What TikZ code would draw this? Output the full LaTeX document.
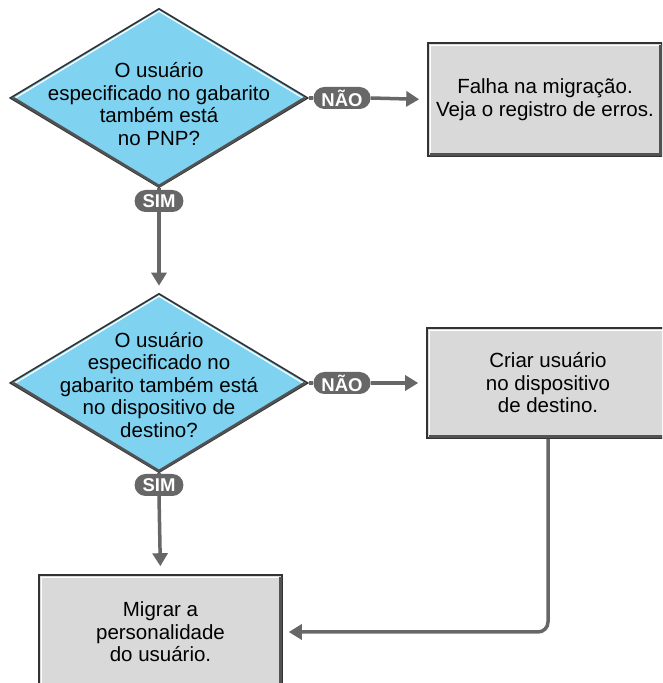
\documentclass[tikz,border=0pt]{standalone}
\usepackage{fontspec}
\setmainfont{Liberation Sans}
\usetikzlibrary{shapes.geometric,arrows.meta,calc}
\definecolor{qblue}{HTML}{7FD3F1}
\definecolor{boxgray}{HTML}{D9D9D9}
\definecolor{pillgray}{HTML}{676767}
\definecolor{edgedark}{HTML}{333333}
\newcommand{\boxfont}{\fontsize{20.5}{22.5}\selectfont}
\newcommand{\pillfont}{\fontsize{18.5}{18.5}\selectfont\bfseries}
\tikzset{
  question/.style={diamond, draw=edgedark, line width=1.6pt, fill=qblue,
    minimum width=298pt, minimum height=179pt, inner sep=0pt},
  qtext/.style={font=\boxfont, align=center},
  action/.style={rectangle, draw=edgedark, line width=1.6pt, fill=boxgray,
    align=center, font=\boxfont},
  answer/.style={rectangle, rounded corners=11pt, fill=pillgray, text=white,
    font=\pillfont, minimum height=22pt, inner xsep=8pt, inner ysep=2pt},
  flow/.style={draw=pillgray, line width=3.5pt},
  flowarrow/.style={flow, -{Triangle[length=13pt,width=15pt]}},
}

\begin{document}
\begin{tikzpicture}[x=1pt,y=1pt]
  \useasboundingbox (0,0) rectangle (662,683);
  \clip (0,0) rectangle (662,683);
  % decisions
  \node[question, label={[qtext, yshift=-6pt]center:O usuário\\especificado no gabarito\\também está\\no PNP?}] (pnp) at (159,585) {};
  \node[question, label={[qtext, yshift=-2pt]center:O usuário\\especificado no\\gabarito também está\\no dispositivo de\\destino?}] (dest) at (159,300) {};
  % actions
  \node[action, minimum width=234pt, minimum height=113pt] (falha) at (545,583.5) {Falha na migração.\\Veja o registro de erros.};
  \node[action, minimum width=242pt, minimum height=110pt] (criar) at (548,300) {Criar usuário\\no dispositivo\\de destino.};
  \node[action, minimum width=243pt, minimum height=114pt] (migrar) at (160.5,51) {Migrar a\\personalidade\\do usuário.};
  % answers
  \node[answer] (no1) at (342,585) {NÃO};
  \node[answer] (sim1) at (159,482) {SIM};
  \node[answer] (no2) at (342,300) {NÃO};
  \node[answer] (sim2) at (159,198) {SIM};
  % bevels
  \foreach \q in {pnp,dest} {
    \draw[white, line width=1.2pt] ($(\q.west)+(6,0)$) -- ($(\q.north)+(0,-3.5)$) -- ($(\q.east)+(-6,0)$);
    \draw[edgedark!85, line width=2.6pt] ($(\q.west)+(4,0)$) -- ($(\q.south)+(0,2.3)$) -- ($(\q.east)+(-4,0)$);
  }
  \foreach \b in {falha,criar,migrar} {
    \draw[white, line width=1.2pt] ($(\b.south west)+(3.2,3.2)$) -- ($(\b.north west)+(3.2,-3.2)$) -- ($(\b.north east)+(-3.2,-3.2)$);
    \draw[edgedark!85, line width=3pt] ($(\b.north east)+(-2.5,-2.5)$) -- ($(\b.south east)+(-2.5,2.5)$) -- ($(\b.south west)+(2.5,2.5)$);
  }
  % connectors
  \draw[flow] (pnp.east) -- (no1.west);
  \draw[flowarrow, shorten >=8pt] (no1.east) -- (falha.west);
  \draw[flow] (pnp.south) -- (sim1.north);
  \draw[flowarrow, shorten >=7pt] (sim1.south) -- (dest.north);
  \draw[flow] (dest.east) -- (no2.west);
  \draw[flowarrow, shorten >=8pt] (no2.east) -- (criar.west);
  \draw[flow] (dest.south) -- (sim2.north);
  \draw[flowarrow, shorten >=8pt] (sim2.south) -- (migrar.north);
  \draw[flowarrow, rounded corners=10pt, shorten >=6pt] (criar.south) |- (migrar.east);
\end{tikzpicture}
\end{document}
